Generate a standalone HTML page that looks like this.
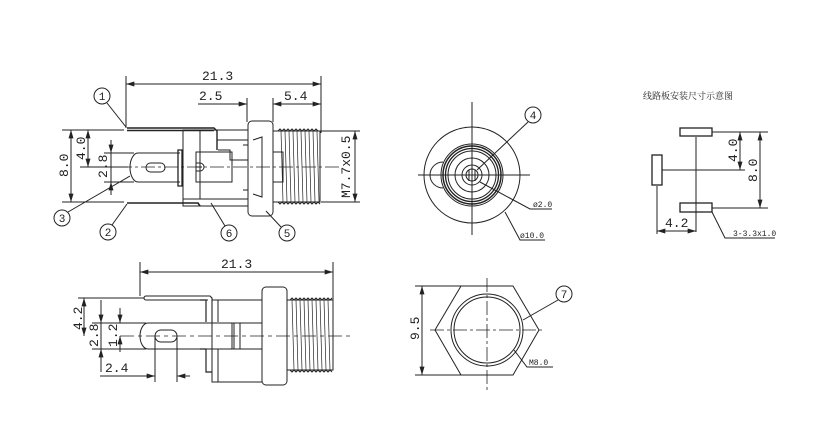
<!DOCTYPE html>
<html><head><meta charset="utf-8"><style>
html,body{margin:0;padding:0;background:#fff}
svg{display:block}
text{font-family:"Liberation Mono",monospace;fill:#222}
</style></head><body>
<svg width="828" height="437" viewBox="0 0 828 437" xmlns="http://www.w3.org/2000/svg">
<defs>
<marker id="a" viewBox="0 0 10 6" refX="10" refY="3" markerWidth="9" markerHeight="5" orient="auto-start-reverse"><path d="M0,0L10,3L0,6z" fill="#222"/></marker>
</defs>
<g stroke="#222" stroke-width="1" fill="none">
<!-- ===== TOP SIDE VIEW ===== -->
<line x1="126" y1="76" x2="126" y2="128"/>
<line x1="321" y1="76" x2="321" y2="133"/>
<line x1="126" y1="84" x2="321" y2="84" marker-start="url(#a)" marker-end="url(#a)"/>
<line x1="247" y1="98" x2="247" y2="122"/>
<line x1="273" y1="98" x2="273" y2="122"/>
<line x1="198" y1="104" x2="247" y2="104" marker-end="url(#a)"/>
<line x1="273" y1="104" x2="321" y2="104" marker-start="url(#a)" marker-end="url(#a)"/>
<path d="M127,128 L214,128 L217,131 L217,150 M127,130.5 L214,130.5" stroke-width="1.4"/>
<path d="M127,203 L198,203 L200,206" stroke-width="1.6"/>
<rect x="183" y="130" width="65" height="76"/>
<line x1="183" y1="199" x2="248" y2="199"/>
<line x1="200" y1="131" x2="200" y2="199"/>
<path d="M217,140 L248,140 M218,150 L230,150 L230,160 L248,160"/>
<rect x="196" y="152" width="36" height="30"/>
<path d="M196,167 h6 M196,163 h4 a3,3 0 0 1 0,8 h-4"/>
<path d="M243,145 L248,145 L248,190 L243,190"/>
<rect x="248" y="121" width="25" height="95" rx="4"/>
<path d="M253,140 L262,137 L262,197 L253,194"/>
<rect x="273" y="152" width="10" height="30"/>
<rect x="273" y="131" width="47" height="71"/>
<path d="M278,131 l2,-2 2,2 2,-2 2,2 2,-2 2,2 2,-2 2,2 2,-2 2,2 2,-2 2,2 2,-2 2,2 2,-2 2,2 2,-2 2,2 2,-2 2,2 M278,202 l2,2 2,-2 2,2 2,-2 2,2 2,-2 2,2 2,-2 2,2 2,-2 2,2 2,-2 2,2 2,-2 2,2 2,-2 2,2 2,-2 2,2 2,-2 2,2"/>
<path d="M281,131 L283,202 M285,131 L287,202 M289,131 L291,202 M293,131 L295,202 M297,131 L299,202 M301,131 L303,202 M305,131 L307,202 M309,131 L311,202 M313,131 L315,202 M317,131 L319,202" stroke-width="0.7"/>
<path d="M180,153 L138,153 A8,14.5 0 0 0 138,182 L180,182"/>
<rect x="146" y="163" width="19" height="9" rx="4.5"/>
<path d="M178,150 L182,150 L182,186 L178,186 Z" stroke-width="1.3"/>
<line x1="118" y1="167" x2="340" y2="167" stroke-dasharray="14,3,3,3" stroke-width="0.8"/>
<line x1="62" y1="130" x2="124" y2="130"/>
<line x1="62" y1="202" x2="124" y2="202"/>
<line x1="80" y1="167" x2="128" y2="167"/>
<line x1="104" y1="153" x2="134" y2="153"/>
<line x1="104" y1="182" x2="134" y2="182"/>
<line x1="71" y1="130" x2="71" y2="202" marker-start="url(#a)" marker-end="url(#a)"/>
<line x1="88" y1="130" x2="88" y2="167" marker-start="url(#a)" marker-end="url(#a)"/>
<line x1="111" y1="140" x2="111" y2="153" marker-end="url(#a)"/>
<line x1="111" y1="195" x2="111" y2="182" marker-end="url(#a)"/>
<line x1="111" y1="153" x2="111" y2="182"/>
<line x1="321" y1="131" x2="360" y2="131"/>
<line x1="321" y1="202" x2="360" y2="202"/>
<line x1="355" y1="131" x2="355" y2="202" marker-start="url(#a)" marker-end="url(#a)"/>
<circle cx="102" cy="96" r="8"/><line x1="107" y1="103" x2="126" y2="127"/>
<circle cx="62" cy="218" r="8"/><line x1="68" y1="212" x2="130" y2="176"/>
<circle cx="108" cy="232" r="8"/><line x1="112" y1="225" x2="127" y2="204"/>
<circle cx="229" cy="233" r="8"/><line x1="225" y1="226" x2="211" y2="203"/>
<circle cx="287" cy="233" r="8"/><line x1="281" y1="227" x2="266" y2="211"/>

<!-- ===== BOTTOM SIDE VIEW ===== -->
<line x1="140" y1="262" x2="140" y2="296"/>
<line x1="333" y1="262" x2="333" y2="300"/>
<line x1="140" y1="272" x2="333" y2="272" marker-start="url(#a)" marker-end="url(#a)"/>
<path d="M146,296 L210,296 L212,298 L212,322 M146,300 L208,300 M146,296 A2,2 0 0 0 146,300" stroke-width="1.1"/>
<rect x="212" y="300" width="50" height="82"/>
<path d="M200,300 L206,300 L206,322 M200,349 L206,349 L206,372 L212,372" stroke-width="1.2"/>
<path d="M218,300 L218,322 M218,349 L218,382"/>
<rect x="262" y="287" width="25" height="98" rx="4"/>
<rect x="287" y="300" width="46" height="70"/>
<path d="M290,300 l2,-2 2,2 2,-2 2,2 2,-2 2,2 2,-2 2,2 2,-2 2,2 2,-2 2,2 2,-2 2,2 2,-2 2,2 2,-2 2,2 2,-2 2,2 2,-2 M290,370 l2,2 2,-2 2,2 2,-2 2,2 2,-2 2,2 2,-2 2,2 2,-2 2,2 2,-2 2,2 2,-2 2,2 2,-2 2,2 2,-2 2,2 2,-2 2,2"/>
<path d="M292,300 L294,370 M296,300 L298,370 M300,300 L302,370 M304,300 L306,370 M308,300 L310,370 M312,300 L314,370 M316,300 L318,370 M320,300 L322,370 M324,300 L326,370 M328,300 L330,370" stroke-width="0.7"/>
<path d="M262,323 L148,323 A8,13 0 0 0 148,349 L262,349"/>
<path d="M232,323 L232,349 M234,323 L234,349 M240,323 L240,349"/>
<rect x="155" y="330" width="22" height="12" rx="6"/>
<line x1="120" y1="336" x2="350" y2="336" stroke-dasharray="14,4,4,4" stroke-width="0.8"/>
<line x1="78" y1="298" x2="144" y2="298"/>
<line x1="92" y1="323" x2="146" y2="323"/>
<line x1="92" y1="349" x2="146" y2="349"/>
<line x1="84" y1="298" x2="84" y2="336" marker-start="url(#a)" marker-end="url(#a)"/>
<line x1="101" y1="300" x2="101" y2="323" marker-end="url(#a)"/>
<line x1="101" y1="372" x2="101" y2="349" marker-end="url(#a)"/>
<line x1="101" y1="323" x2="101" y2="349"/>
<line x1="120" y1="308" x2="120" y2="323" marker-end="url(#a)"/>
<line x1="120" y1="352" x2="120" y2="336" marker-end="url(#a)"/>
<line x1="155" y1="336" x2="155" y2="382"/>
<line x1="177" y1="336" x2="177" y2="382"/>
<line x1="143" y1="376" x2="155" y2="376" marker-end="url(#a)"/>
<line x1="190" y1="376" x2="177" y2="376" marker-end="url(#a)"/>
<line x1="100" y1="376" x2="143" y2="376"/>

<!-- ===== FRONT VIEW ===== -->
<line x1="418" y1="175" x2="530" y2="175"/>
<line x1="472" y1="102" x2="472" y2="235"/>
<circle cx="472" cy="175" r="48"/>
<circle cx="472" cy="175" r="31"/>
<circle cx="472" cy="175" r="29" stroke-width="1.5"/>
<circle cx="472" cy="175" r="26.5" stroke-width="1.3"/>
<circle cx="472" cy="175" r="24"/>
<circle cx="472" cy="175" r="17"/>
<circle cx="472" cy="175" r="10"/>
<circle cx="472" cy="175" r="6"/>
<path d="M443,162 A12,12 0 0 0 443,188"/>
<line x1="469" y1="170" x2="469" y2="181"/><line x1="475" y1="170" x2="475" y2="181"/>
<circle cx="533" cy="115" r="8"/><line x1="528" y1="122" x2="477" y2="170"/>
<path d="M480,182 L530,209 L552,209"/>
<path d="M505,212 L520,240 L545,240"/>
<!-- ===== HEX VIEW ===== -->
<path d="M461,286 L513,286 L539,330 L513,375 L461,375 L435,330 Z"/>
<circle cx="487" cy="330" r="36"/>
<circle cx="487" cy="330" r="33"/>
<line x1="430" y1="330" x2="545" y2="330" stroke-dasharray="14,3,3,3" stroke-width="0.8"/>
<line x1="487" y1="278" x2="487" y2="390" stroke-dasharray="14,3,3,3" stroke-width="0.8"/>
<line x1="415" y1="286" x2="461" y2="286"/>
<line x1="415" y1="375" x2="461" y2="375"/>
<line x1="422" y1="286" x2="422" y2="375" marker-start="url(#a)" marker-end="url(#a)"/>
<circle cx="564" cy="294" r="8"/><line x1="558" y1="300" x2="523" y2="320"/>
<path d="M514,350 L527,367 L553,367"/>
<!-- ===== PCB ===== -->
<rect x="680" y="128" width="32" height="8" stroke-width="1.3"/>
<rect x="680" y="203" width="32" height="9" stroke-width="1.3"/>
<rect x="652" y="155" width="10" height="30" stroke-width="1.3"/>
<line x1="696" y1="137" x2="696" y2="232"/>
<line x1="662" y1="170" x2="745" y2="170"/>
<line x1="712" y1="132" x2="768" y2="132"/>
<line x1="712" y1="208" x2="768" y2="208"/>
<line x1="740" y1="132" x2="740" y2="170" marker-start="url(#a)" marker-end="url(#a)"/>
<line x1="760" y1="132" x2="760" y2="208" marker-start="url(#a)" marker-end="url(#a)"/>
<line x1="657" y1="186" x2="657" y2="234"/>
<line x1="657" y1="231" x2="696" y2="231" marker-start="url(#a)" marker-end="url(#a)"/>
<path d="M712,212 L725,238 L775,238"/>
</g>
<g font-size="13">
<text x="202" y="80">21.3</text>
<text x="199" y="100">2.5</text>
<text x="284" y="100">5.4</text>
<text transform="translate(68,177) rotate(-90)">8.0</text>
<text transform="translate(85,160) rotate(-90)">4.0</text>
<text transform="translate(107,178) rotate(-90)">2.8</text>
<text transform="translate(350,198) rotate(-90)">M7.7x0.5</text>
<text x="221" y="268">21.3</text>
<text transform="translate(82,330) rotate(-90)">4.2</text>
<text transform="translate(98,347) rotate(-90)">2.8</text>
<text transform="translate(117,347) rotate(-90)">1.2</text>
<text x="105" y="372">2.4</text>
<text transform="translate(419,340) rotate(-90)">9.5</text>
<text transform="translate(737,162) rotate(-90)">4.0</text>
<text transform="translate(757,182) rotate(-90)">8.0</text>
<text x="665" y="227">4.2</text>
</g>
<g font-size="11" text-anchor="middle" font-family="Liberation Sans,sans-serif">
<text x="102" y="100">1</text><text x="62" y="222">3</text><text x="108" y="236">2</text>
<text x="229" y="237">6</text><text x="287" y="237">5</text><text x="533" y="119">4</text><text x="564" y="298">7</text>
</g>
<g font-size="8">
<text x="533" y="207">ø2.0</text>
<text x="520" y="238">ø10.0</text>
<text x="529" y="365">M8.0</text>
<text x="733" y="236">3-3.3x1.0</text>
</g>
<text x="643" y="99" font-size="9" style="font-family:'Liberation Serif','Noto Serif CJK SC',serif" fill="#444">线路板安装尺寸示意图</text>
</svg>
</body></html>
